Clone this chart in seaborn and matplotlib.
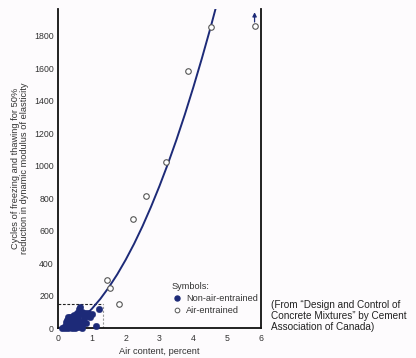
import matplotlib
matplotlib.use("Agg")
import matplotlib.pyplot as plt
import seaborn as sns
import pandas as pd
from matplotlib.lines import Line2D

# ---- data ----
non_air_x = [0.12, 0.18, 0.22, 0.25, 0.28, 0.30, 0.32, 0.35, 0.38, 0.40,
             0.42, 0.45, 0.48, 0.50, 0.52, 0.55, 0.58, 0.60, 0.62, 0.65,
             0.68, 0.70, 0.72, 0.75, 0.78, 0.80, 0.85, 0.90, 0.95, 1.00,
             1.13, 1.20, 0.30, 0.40, 0.50, 0.60, 0.70, 0.45, 0.55, 0.65,
             0.35, 0.58, 0.82, 0.25]
non_air_y = [0, 5, 0, 20, 50, 65, 10, 30, 60, 0,
             45, 25, 80, 55, 10, 35, 95, 70, 120, 130,
             40, 100, 20, 85, 60, 95, 75, 90, 70, 85,
             15, 120, 0, 10, 0, 5, 0, 75, 90, 100,
             70, 45, 30, 35]

air_x = [1.44, 1.54, 1.80, 2.23, 2.60, 3.20, 3.84, 4.51, 5.81]
air_y = [294, 247, 150, 670, 816, 1020, 1583, 1852, 1860]

curve_x = [0.80, 1.00, 1.25, 1.50, 1.75, 2.00, 2.25, 2.50, 2.75, 3.00,
           3.25, 3.50, 3.75, 4.00, 4.25, 4.50, 4.75]
curve_y = [76, 118, 179, 250, 330, 420, 519, 628, 747, 875,
           1012, 1159, 1316, 1483, 1659, 1844, 2039]

box_x = 1.33      # dashed box around non-air-entrained data
box_y = 145
arrow_point = (5.81, 1860)   # point with upward arrow (value exceeds)
arrow_top = 1945

x_ticks = [0, 1, 2, 3, 4, 5, 6]
y_ticks = [0, 200, 400, 600, 800, 1000, 1200, 1400, 1600, 1800]

NAVY = "#1d2a78"
BG = "#fdfbfd"

sns.set_theme(style="white")
plt.rcParams["font.family"] = ["Liberation Sans", "DejaVu Sans"]

fig = plt.figure(figsize=(4.16, 3.58), dpi=100, facecolor=BG)
ax = fig.add_axes([58/416, 30/358, 203/416, 319/358], facecolor=BG)

df_non = pd.DataFrame({"x": non_air_x, "y": non_air_y})
df_air = pd.DataFrame({"x": air_x, "y": air_y})
df_curve = pd.DataFrame({"x": curve_x, "y": curve_y})

sns.lineplot(data=df_curve, x="x", y="y", ax=ax, color=NAVY, lw=1.4,
             sort=True, estimator=None, zorder=2)
sns.scatterplot(data=df_non, x="x", y="y", ax=ax, color=NAVY, s=22,
                edgecolor=NAVY, linewidth=0.3, zorder=3, clip_on=False)
sns.scatterplot(data=df_air, x="x", y="y", ax=ax, facecolor="white", s=16,
                edgecolor="#555555", linewidth=0.8, zorder=4, clip_on=False)

# dashed box
ax.plot([0, box_x], [box_y, box_y], ls=(0, (2.5, 1.5)), color="#222222", lw=0.8, zorder=1)
ax.plot([box_x, box_x], [0, box_y], ls=(0, (2, 1.5)), color="#999999", lw=0.8, zorder=1)

# arrow above last point
ax.annotate("", xy=(arrow_point[0], arrow_top), xytext=(arrow_point[0], arrow_point[1] + 25),
            arrowprops=dict(arrowstyle="-|>", color=NAVY, lw=0.9,
                            mutation_scale=6, shrinkA=0, shrinkB=0),
            annotation_clip=False)

ax.set_xlim(0, 6)
ax.set_ylim(0, 1965)
ax.set_xticks(x_ticks)
ax.set_yticks(y_ticks)
ax.tick_params(direction="in", length=4, width=1.1, labelsize=6.3, colors="#111111",
               labelcolor="#333333", pad=3)
ax.tick_params(axis="x", pad=4)
for side in ["left", "right", "bottom"]:
    ax.spines[side].set_visible(True)
    ax.spines[side].set_color("#111111")
    ax.spines[side].set_linewidth(1.3)
ax.spines["top"].set_visible(False)

ax.set_xlabel("Air content, percent", fontsize=6.7, color="#333333", labelpad=3)
ax.set_ylabel("Cycles of freezing and thawing for 50%\nreduction in dynamic modulus of elasticity",
              fontsize=6.7, color="#333333", labelpad=4, linespacing=1.0)

handles = [
    Line2D([], [], ls="", marker="o", markersize=3.6, color=NAVY, markeredgecolor=NAVY),
    Line2D([], [], ls="", marker="o", markersize=3.4, markerfacecolor="white",
           markeredgecolor="#555555", markeredgewidth=0.7),
]
leg = ax.legend(handles, ["Non-air-entrained", "Air-entrained"], title="Symbols:",
                loc="upper left", bbox_to_anchor=(0.53, 0.165), frameon=False,
                fontsize=6.6, title_fontsize=6.6, handlelength=1.0,
                handletextpad=0.5, labelspacing=0.35, borderpad=0.2)
leg._legend_box.align = "left"
for t in leg.get_texts():
    t.set_color("#333333")
leg.get_title().set_color("#333333")

fig.text(271/416, 1 - 316/358,
         "(From \u201cDesign and Control of\nConcrete Mixtures\u201d by Cement\nAssociation of Canada)",
         fontsize=7.2, color="#222222", va="center", ha="left", linespacing=1.08)

fig.savefig("out.png", dpi=100, facecolor=BG)
